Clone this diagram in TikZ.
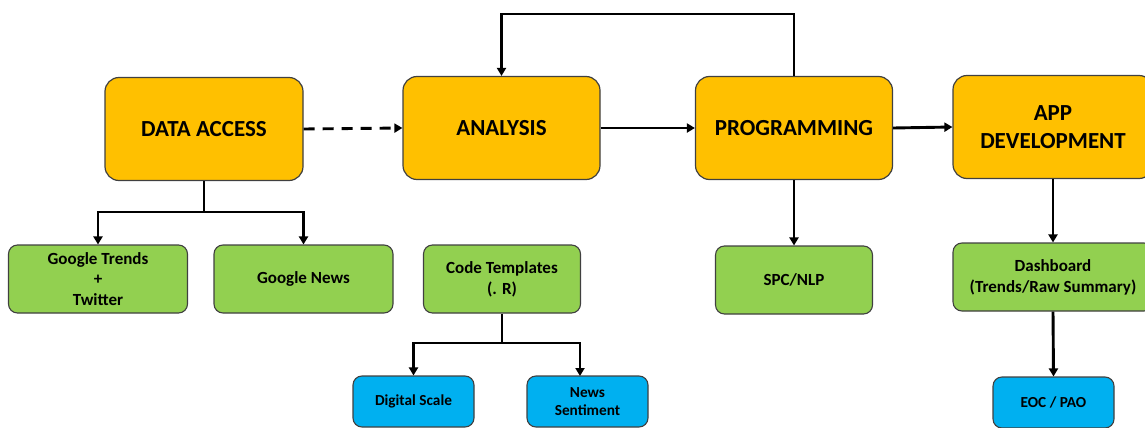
\documentclass[tikz,border=0pt]{standalone}
\usepackage{fontspec}
\setmainfont{Carlito}
\usetikzlibrary{arrows.meta}
\definecolor{orangebox}{HTML}{FFC000}
\definecolor{greenbox}{HTML}{92D050}
\definecolor{bluebox}{HTML}{00B0F0}
\definecolor{edgecol}{HTML}{404040}
\tikzset{
  bigbox/.style={draw=edgecol, line width=1.2pt, fill=orangebox, rounded corners=14pt,
    minimum width=198pt, minimum height=103pt, inner sep=0pt, align=center,
    font=\fontsize{23}{28.7}\selectfont\bfseries},
  greenbx/.style={draw=edgecol, line width=1.1pt, fill=greenbox, rounded corners=9pt,
    minimum height=68pt, inner sep=0pt, align=center,
    font=\fontsize{17}{20.8}\selectfont\bfseries},
  bluebx/.style={draw=edgecol, line width=1.1pt, fill=bluebox, rounded corners=9pt,
    minimum width=121pt, minimum height=51pt, inner sep=0pt, align=center,
    font=\fontsize{15.3}{18.5}\selectfont\bfseries},
  arr/.style={line width=2.9pt, -{Triangle[length=8pt,width=9pt]}},
  ln/.style={line width=2.9pt},
}
\begin{document}
\begin{tikzpicture}[x=1pt,y=-1pt]
\useasboundingbox (0,0) rectangle (1145,428);
% main boxes
\node[bigbox] (DA) at (204,129) {DATA ACCESS};
\node[bigbox, minimum width=197pt] (AN) at (501.5,128) {ANALYSIS};
\node[bigbox, minimum width=197pt] (PR) at (794,128) {PROGRAMMING};
\node[bigbox, minimum width=200pt] (AD) at (1053,127) {APP\\DEVELOPMENT};
% green boxes
\node[greenbx, minimum width=179pt] (GT) at (98,279) {Google Trends\\+\\Twitter};
\node[greenbx, minimum width=179pt] (GN) at (303.5,279) {Google News};
\node[greenbx, minimum width=157pt] (CT) at (502,279) {Code Templates\\(. R)};
\node[greenbx, minimum width=157pt] (SP) at (794,280) {SPC/NLP};
\node[greenbx, minimum width=200pt] (DB) at (1053,277) {Dashboard\\(Trends/Raw Summary)};
% blue boxes
\node[bluebx] (DS) at (413.5,401.5) {Digital Scale};
\node[bluebx] (NS) at (587.5,401.5) {News\\Sentiment};
\node[bluebx] (EO) at (1053.5,402.5) {EOC / PAO};
% connectors
\draw[arr, dash pattern=on 11pt off 8pt] (DA.east) -- (AN.west);
\draw[arr] (AN.east) -- (PR.west);
\draw[arr] (PR.east) -- (AD.west);
\coordinate (top) at (794,14);
\draw[arr] (PR.north) -- (top) -| (AN.north);
\coordinate (dajoin) at (204,212);
\draw[ln] (DA.south) -- (dajoin);
\draw[arr] (dajoin) -| (GT.north);
\draw[arr] (dajoin) -| (GN.north);
\coordinate (ctjoin) at (502,343);
\coordinate (nsin) at (580,376);
\draw[ln] (CT.south) -- (ctjoin);
\draw[arr] (ctjoin) -| (DS.north);
\draw[arr] (ctjoin) -| (nsin);
\draw[arr] (PR.south) -- (SP.north);
\draw[arr] (AD.south) -- (DB.north);
\draw[arr] (DB.south) -- (EO.north);
\end{tikzpicture}
\end{document}
